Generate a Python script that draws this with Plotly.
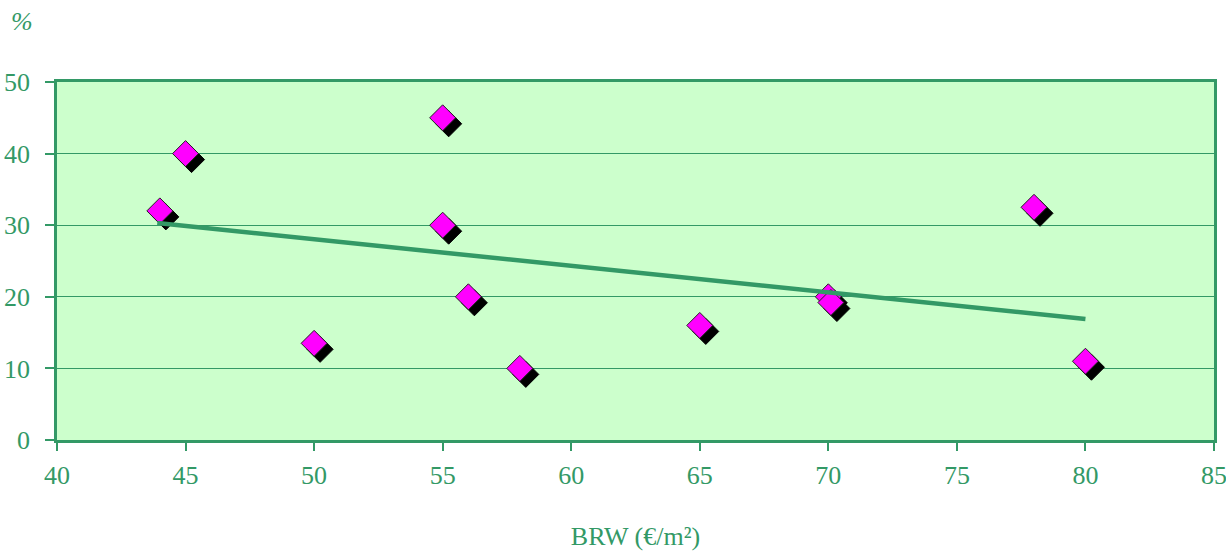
import plotly.graph_objects as go

# Land value (BRW, €/m²) against share (%)
brw = [44, 45, 50, 55, 55, 56, 58, 65, 70, 70.1, 78, 80]
share = [32, 40, 13.5, 45, 30, 20, 10, 16, 20, 19.2, 32.5, 11]

# Linear trend end points
trend_x = [43.9, 80]
trend_y = [30.3, 16.9]

x_ticks = [40, 45, 50, 55, 60, 65, 70, 75, 80, 85]
y_ticks = [0, 10, 20, 30, 40, 50]

GREEN = "#339966"
FONT = "Liberation Serif, Times New Roman, serif"

W, H = 1226, 551
M = dict(l=57, r=12, t=82, b=111)
X_RANGE = [40, 85]
Y_RANGE = [0, 50]

# drop shadow offset of the markers, in pixels -> axis units
plot_w = W - M["l"] - M["r"]
plot_h = H - M["t"] - M["b"]
shadow_px = 6
sdx = shadow_px * (X_RANGE[1] - X_RANGE[0]) / plot_w
sdy = shadow_px * (Y_RANGE[1] - Y_RANGE[0]) / plot_h

fig = go.Figure()

fig.add_trace(go.Scatter(
    x=[v + sdx for v in brw], y=[v - sdy for v in share],
    mode="markers",
    marker=dict(symbol="diamond", size=20, color="black",
                line=dict(color="black", width=1)),
    hoverinfo="skip", showlegend=False, cliponaxis=False,
))
fig.add_trace(go.Scatter(
    x=brw, y=share, mode="markers",
    marker=dict(symbol="diamond", size=20, color="#ff00ff",
                line=dict(color="#222222", width=1)),
    showlegend=False, cliponaxis=False,
))
fig.add_trace(go.Scatter(
    x=trend_x, y=trend_y, mode="lines",
    line=dict(color=GREEN, width=4.5),
    showlegend=False,
))

fig.update_layout(
    width=W, height=H,
    margin=M,
    paper_bgcolor="white",
    plot_bgcolor="#ccffcc",
    font=dict(family=FONT, size=26, color=GREEN),
    xaxis=dict(
        range=X_RANGE, tickvals=x_ticks, showgrid=False, zeroline=False,
        automargin=False, ticklabeloverflow="allow",
        showline=True, linecolor=GREEN, linewidth=2.5, mirror=True,
        ticks="outside", ticklen=8, tickwidth=1.5, tickcolor=GREEN,
        ticklabelstandoff=2,
        title=dict(text="BRW (€/m²)", font=dict(size=26, color=GREEN), standoff=46),
    ),
    yaxis=dict(
        range=Y_RANGE, tickvals=y_ticks, showgrid=True, gridcolor=GREEN,
        gridwidth=1, zeroline=False,
        automargin=False, ticklabeloverflow="allow",
        showline=True, linecolor=GREEN, linewidth=2.5, mirror=True,
        ticks="outside", ticklen=9, tickwidth=1.5, tickcolor=GREEN,
        ticklabelstandoff=10,
    ),
    annotations=[dict(
        text="<i>%</i>", xref="paper", yref="paper", x=-0.030, y=1.168,
        xanchor="center", yanchor="middle", showarrow=False,
        font=dict(size=26, color=GREEN, family=FONT),
    )],
)

fig.write_html("out.html")
